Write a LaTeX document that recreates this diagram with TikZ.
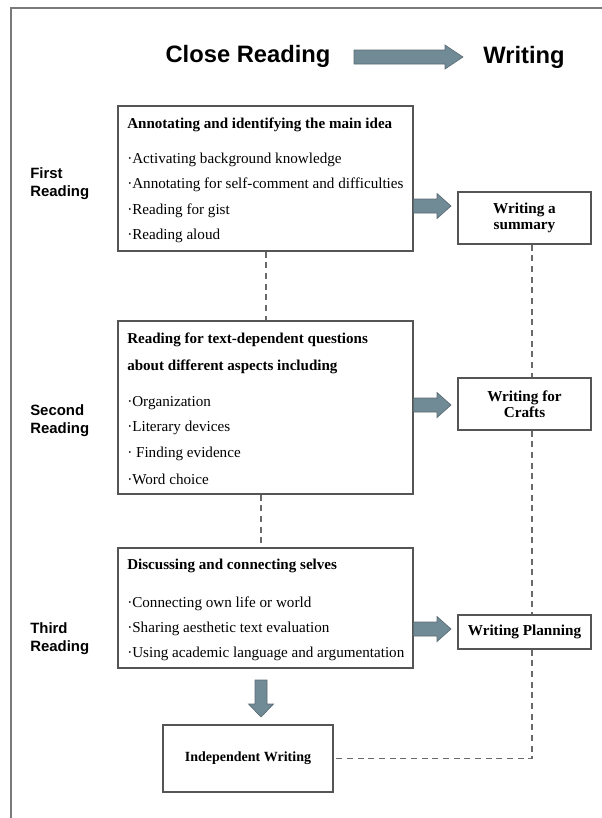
\documentclass[tikz,border=0pt]{standalone}
\usepackage{fontspec}
\setmainfont{Liberation Serif}
\setsansfont{Liberation Sans}
\usetikzlibrary{calc}
\definecolor{arrowfill}{HTML}{708A96}
\definecolor{arrowline}{HTML}{5A6B73}
\definecolor{boxline}{HTML}{555555}
\definecolor{dashcol}{HTML}{6A6A6A}
\definecolor{framecol}{HTML}{7A7A7A}
\tikzset{
  bigbox/.style={draw=boxline, line width=0.9pt, rectangle, minimum width=221.25pt, minimum height=#1, inner sep=0pt},
  wbox/.style={draw=boxline, line width=0.9pt, rectangle, minimum width=99.75pt, minimum height=#1, inner sep=0pt, align=center, font=\fontsize{11.4pt}{12pt}\selectfont\bfseries},
  itemtext/.style={anchor=west, inner sep=0pt, font=\fontsize{11.35pt}{13pt}\selectfont},
  titletext/.style={anchor=west, inner sep=0pt, font=\fontsize{11.3pt}{13pt}\selectfont\bfseries},
  sidelabel/.style={anchor=west, inner sep=0pt, align=left, font=\fontsize{11.2pt}{13.5pt}\selectfont\sffamily\bfseries},
  headtext/.style={inner sep=0pt, font=\fontsize{17.8pt}{20pt}\selectfont\sffamily\bfseries},
  blockarrow/.style={fill=arrowfill, draw=arrowline, line width=0.5pt},
  dashline/.style={draw=dashcol, line width=1pt, dash pattern=on 4.5pt off 3.5pt}
}
\begin{document}
\begin{tikzpicture}[x=0.75pt,y=-0.75pt]
\useasboundingbox (0,0) rectangle (602,818);
\draw[framecol, line width=0.9pt] (11,818) -- (11,8) -- (602,8);

% headings
\node[headtext] (hcr) at (248,56) {Close Reading};
\node[headtext] (hwr) at (524,57) {Writing};
\draw[blockarrow] (354,50) -- (445,50) -- (445,45) -- (463,57) -- (445,69) -- (445,64) -- (354,64) -- cycle;

% side labels
\node[sidelabel] (l1) at (30,184) {First\\Reading};
\node[sidelabel] (l2) at (30,421) {Second\\Reading};
\node[sidelabel] (l3) at (30,639) {Third\\Reading};

% box 1
\node[bigbox=108.75pt] (b1) at (265.5,178.5) {};
\node[titletext] (t1) at (127,125) {Annotating and identifying the main idea};
\node[itemtext] (i11) at (127,160) {·Activating background knowledge};
\node[itemtext] (i12) at (127,185) {·Annotating for self-comment and difficulties};
\node[itemtext] (i13) at (127,211) {·Reading for gist};
\node[itemtext] (i14) at (127,236) {·Reading aloud};

% box 2
\node[bigbox=129.75pt] (b2) at (265.5,407.5) {};
\node[titletext] (t21) at (127,340) {Reading for text-dependent questions};
\node[titletext] (t22) at (127,367) {about different aspects including};
\node[itemtext] (i21) at (127,403) {·Organization};
\node[itemtext] (i22) at (127,428) {·Literary devices};
\node[itemtext] (i23) at (127,454) {· Finding evidence};
\node[itemtext] (i24) at (127,479) {·Word choice};

% box 3
\node[bigbox=90pt] (b3) at (265.5,608) {};
\node[titletext] (t3) at (127,566) {Discussing and connecting selves};
\node[itemtext] (i31) at (127,604) {·Connecting own life or world};
\node[itemtext] (i32) at (127,629) {·Sharing aesthetic text evaluation};
\node[itemtext] (i33) at (127,654) {·Using academic language and argumentation};

% writing boxes
\node[wbox=39pt] (sum) at (524.5,218) {Writing a\\summary};
\node[wbox=39pt] (crf) at (524.5,404) {Writing for\\Crafts};
\node[wbox=25.5pt] (pln) at (524.5,632) {Writing Planning};
\node[draw=boxline, line width=0.9pt, rectangle, minimum width=127.5pt, minimum height=50.25pt, inner sep=0pt, font=\fontsize{10.5pt}{12pt}\selectfont\bfseries] (ind) at (248,758.5) {Independent Writing};

% block arrows
\draw[blockarrow] (b1.east |- 0,199) -- (437,199) -- (437,193.5) -- (451,206) -- (437,218.5) -- (437,213) -- (b1.east |- 0,213) -- cycle;
\draw[blockarrow] (b2.east |- 0,398) -- (437,398) -- (437,392.5) -- (451,405) -- (437,417.5) -- (437,412) -- (b2.east |- 0,412) -- cycle;
\draw[blockarrow] (b3.east |- 0,622) -- (437,622) -- (437,616.5) -- (451,629) -- (437,641.5) -- (437,636) -- (b3.east |- 0,636) -- cycle;
\draw[blockarrow] (255,680) -- (267,680) -- (267,704) -- (273.5,704) -- (261,717) -- (248.5,704) -- (255,704) -- cycle;

% dashed connectors
\coordinate (cmid) at (261,0);
\coordinate (rc) at (532,0);
\draw[dashline] (b1.south -| 266,0) -- (b2.north -| 266,0);
\draw[dashline] (b2.south -| cmid) -- (b3.north -| cmid);
\draw[dashline] (sum.south -| rc) -- (crf.north -| rc);
\draw[dashline] (crf.south -| rc) -- (pln.north -| rc);
\draw[dashline] (pln.south -| rc) |- (ind.east);
\end{tikzpicture}
\end{document}
